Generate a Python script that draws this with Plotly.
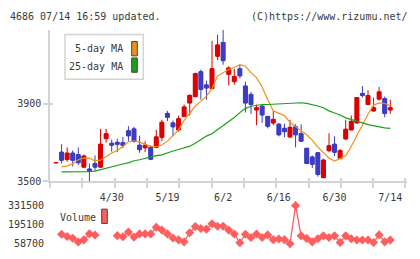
import plotly.graph_objects as go

W, H = 420, 259

# ---------------- data ----------------
opens = [3596, 3651, 3613, 3646, 3638, 3574, 3564, 3593, 3574, 3721,
         3697, 3702, 3700, 3761, 3771, 3687, 3674, 3676, 3676, 3728,
         3851, 3802, 3766, 3836, 3905, 3938, 4066, 3998, 3979, 4146,
         4217, 4053, 4015, 4081, 3992, 3949, 3869, 3889, 3835, 3802,
         3795, 3774, 3730, 3782, 3746, 3671, 3626, 3648, 3520, 3659,
         3692, 3618, 3720, 3766, 3802, 3954, 3897, 3864, 3925, 3927, 3869]
highs = [3598, 3692, 3676, 3660, 3676, 3639, 3593, 3634, 3771, 3771,
         3716, 3721, 3730, 3785, 3782, 3736, 3708, 3687, 3766, 3818,
         3864, 3815, 3840, 3897, 3949, 4061, 4077, 4020, 4225, 4258,
         4282, 4094, 4081, 4102, 4015, 3962, 3897, 3889, 3840, 3864,
         3802, 3799, 3818, 3795, 3795, 3671, 3634, 3648, 3618, 3749,
         3733, 3667, 3818, 3840, 3933, 3992, 3971, 3933, 3987, 3938, 3922]
lows = [3596, 3593, 3602, 3577, 3585, 3569, 3500, 3556, 3569, 3700,
        3654, 3651, 3672, 3708, 3700, 3648, 3651, 3610, 3671, 3708,
        3811, 3733, 3757, 3831, 3840, 3933, 3922, 3922, 3979, 4126,
        4102, 3995, 3999, 4031, 3856, 3848, 3790, 3802, 3774, 3790,
        3733, 3728, 3725, 3676, 3708, 3589, 3569, 3525, 3517, 3651,
        3631, 3615, 3713, 3766, 3802, 3933, 3897, 3861, 3917, 3831, 3848]
closes = [3598, 3610, 3646, 3610, 3597, 3631, 3553, 3574, 3692, 3746,
          3687, 3692, 3687, 3736, 3708, 3664, 3687, 3615, 3730, 3805,
          3831, 3782, 3823, 3884, 3944, 4056, 3974, 3982, 4081, 4204,
          4123, 4085, 4041, 4045, 3905, 3897, 3880, 3843, 3785, 3820,
          3741, 3757, 3779, 3741, 3708, 3593, 3589, 3536, 3610, 3684,
          3651, 3659, 3769, 3810, 3933, 3943, 3943, 3880, 3962, 3851, 3880]

ma5 = [None, 3577, 3579, 3592, 3612, 3621, 3620, 3606, 3610, 3628,
       3647, 3660, 3680, 3705, 3710, 3703, 3690, 3681, 3679, 3688,
       3708, 3738, 3766, 3815, 3851, 3889, 3913, 3940, 3979, 4045,
       4061, 4077, 4088, 4102, 4094, 4061, 4034, 3987, 3922, 3864,
       3851, 3840, 3805, 3782, 3761, 3741, 3713, 3677, 3651, 3621,
       3605, 3618, 3632, 3682, 3736, 3795, 3847, 3894, 3905, 3902, 3890]
ma25 = [None, 3549, 3549, 3549, 3549, 3549, 3551, 3553, 3561, 3570,
        3577, 3583, 3590, 3596, 3607, 3612, 3620, 3627, 3633, 3637,
        3648, 3657, 3665, 3673, 3682, 3697, 3714, 3734, 3746, 3766,
        3790, 3810, 3830, 3855, 3877, 3888, 3894, 3897, 3897, 3898,
        3899, 3900, 3902, 3905, 3906, 3903, 3897, 3889, 3880, 3864,
        3853, 3843, 3828, 3818, 3810, 3802, 3793, 3787, 3782, 3776, 3774]
volume = [None, 126900, 110500, 98300, 71000, 86700, 129600, 121400, None, None,
          None, 116700, 108500, 142600, 106400, 129000, 129000, 129000, 176700, 156200,
          129000, 99600, 86700, 72300, 137800, 181500, 167800, 163000, 202000, 183500,
          183500, 156200, 128900, 65500, 126900, 103700, 128900, 103700, 122100, 88000,
          92800, 88000, 58700, 331500, 115300, 96900, 72300, 94800, 115300, 103700,
          115300, 67600, 115300, 94800, 86000, 86000, 86000, 67600, 122100, 72300, 86000]

idx = list(range(len(closes)))
date_idx = [10, 20, 30, 40, 50, 60]
date_labels = ["4/30", "5/19", "6/2", "6/16", "6/30", "7/14"]
price_ticks = [3500, 3900]
vol_ticks = [58700, 195100, 331500]

# ---------------- style ----------------
FONT = "DejaVu Sans Mono"
TXT = "#3a3a3a"
AX = "#d4d4d4"
UP = "#dd0000"
DOWN = "#3c3cc4"
ORANGE = "#f0901a"
GREEN = "#1aa01a"
VOLC = "#ff5e5e"


def px(xp):
    return xp / W


def py(yp):
    return 1 - yp / H


x_dom = [px(50), px(407)]
x_rng = [-1.077, 63.0]

body_base = [min(o, c) for o, c in zip(opens, closes)]
body_len = [abs(c - o) for o, c in zip(opens, closes)]
body_col = [UP if c >= o else DOWN for o, c in zip(opens, closes)]

fig = go.Figure()
fig.add_trace(go.Candlestick(
    x=idx, open=opens, high=highs, low=lows, close=closes,
    increasing=dict(line=dict(color=UP, width=1), fillcolor=UP),
    decreasing=dict(line=dict(color=DOWN, width=1), fillcolor=DOWN),
    whiskerwidth=0, showlegend=False, xaxis="x", yaxis="y"))
fig.add_trace(go.Bar(x=idx, y=body_len, base=body_base, width=0.72,
                     marker=dict(color=body_col, line=dict(color=body_col, width=1)),
                     showlegend=False, hoverinfo="skip", xaxis="x", yaxis="y"))
fig.add_trace(go.Scatter(x=idx, y=ma5, mode="lines", line=dict(color=ORANGE, width=1.2),
                         showlegend=False, xaxis="x", yaxis="y"))
fig.add_trace(go.Scatter(x=idx, y=ma25, mode="lines", line=dict(color=GREEN, width=1.2),
                         showlegend=False, xaxis="x", yaxis="y"))
fig.add_trace(go.Scatter(x=idx, y=volume, mode="lines+markers",
                         line=dict(color=VOLC, width=1.3),
                         marker=dict(symbol="diamond", size=7, color=VOLC),
                         cliponaxis=False, connectgaps=False,
                         showlegend=False, xaxis="x4", yaxis="y4"))

fig.update_layout(
    width=W, height=H, margin=dict(l=0, r=0, t=0, b=0),
    paper_bgcolor="white", plot_bgcolor="white", barmode="overlay",
    font=dict(family=FONT, size=10, color=TXT),
    xaxis=dict(domain=x_dom, range=x_rng, anchor="y",
               rangeslider=dict(visible=False),
               showline=True, linecolor=AX, linewidth=1.5,
               showgrid=False, zeroline=False,
               tickmode="array", tickvals=date_idx, ticktext=date_labels,
               ticks="outside", ticklen=6, tickcolor="rgba(0,0,0,0)",
               tickfont=dict(family=FONT, size=10, color=TXT),
               minor=dict(tickmode="linear", tick0=-1.077, dtick=5.8,
                          ticks="outside", ticklen=5, tickcolor=AX, tickwidth=1.5,
                          showgrid=False)),
    xaxis2=dict(overlaying="x", matches="x", anchor="y", showline=False,
                showgrid=False, zeroline=False, showticklabels=False,
                tickmode="linear", tick0=-1.077, dtick=5.8,
                ticks="inside", ticklen=3, tickcolor=AX, tickwidth=1.5),
    yaxis=dict(domain=[py(184), py(25)], range=[3500, 4282], anchor="x",
               showline=True, linecolor=AX, linewidth=1.5,
               showgrid=False, zeroline=False,
               tickmode="array", tickvals=price_ticks,
               ticktext=[str(v) for v in price_ticks],
               ticks="outside", ticklen=5, tickcolor=AX, tickwidth=1.5,
               tickfont=dict(family=FONT, size=10, color=TXT)),
    yaxis2=dict(overlaying="y", matches="y", anchor="x", showline=False,
                showgrid=False, zeroline=False, showticklabels=False,
                tickmode="array", tickvals=price_ticks,
                ticks="inside", ticklen=3, tickcolor=AX, tickwidth=1.5),
    xaxis4=dict(domain=x_dom, range=x_rng, anchor="y4", matches="x",
                showline=False, showgrid=False, zeroline=False,
                showticklabels=False, ticks=""),
    yaxis4=dict(domain=[py(249.3), py(209.3)], range=[58700, 331500], anchor="x4",
                showline=False, showgrid=False, zeroline=False,
                tickmode="array", tickvals=vol_ticks,
                ticktext=[str(v) for v in vol_ticks],
                ticks="outside", ticklen=3, tickcolor="rgba(0,0,0,0)",
                tickfont=dict(family=FONT, size=10, color=TXT)),
)

# invisible traces so the overlay tick axes are drawn
fig.add_trace(go.Scatter(x=[idx[0]], y=[closes[0]], mode="markers",
                         marker=dict(opacity=0), hoverinfo="skip",
                         showlegend=False, xaxis="x2", yaxis="y"))
fig.add_trace(go.Scatter(x=[idx[0]], y=[closes[0]], mode="markers",
                         marker=dict(opacity=0), hoverinfo="skip",
                         showlegend=False, xaxis="x", yaxis="y2"))

# header texts
fig.add_annotation(x=px(8), y=py(11), xref="paper", yref="paper", xanchor="left",
                   yanchor="middle", showarrow=False, text="4686 07/14 16:59 updated.",
                   font=dict(family=FONT, size=10, color=TXT))
fig.add_annotation(x=px(410), y=py(11), xref="paper", yref="paper", xanchor="right",
                   yanchor="middle", showarrow=False, text="(C)https://www.rizumu.net/",
                   font=dict(family=FONT, size=10, color=TXT))

# legend box
fig.add_shape(type="rect", xref="paper", yref="paper", x0=px(65), x1=px(143.3),
              y0=py(76.7), y1=py(30), line=dict(color=AX, width=1.5), fillcolor="white",
              layer="above")
fig.add_annotation(x=px(125), y=py(45), xref="paper", yref="paper", xanchor="right",
                   yanchor="middle", showarrow=False, text="5-day MA",
                   font=dict(family=FONT, size=10, color=TXT))
fig.add_annotation(x=px(125), y=py(63), xref="paper", yref="paper", xanchor="right",
                   yanchor="middle", showarrow=False, text="25-day MA",
                   font=dict(family=FONT, size=10, color=TXT))
fig.add_shape(type="rect", xref="paper", yref="paper", x0=px(131.7), x1=px(137.3),
              y0=py(52.3), y1=py(37.3), line=dict(color="#444", width=1), fillcolor=ORANGE,
              layer="above")
fig.add_shape(type="rect", xref="paper", yref="paper", x0=px(131.7), x1=px(137.3),
              y0=py(69.5), y1=py(54.5), line=dict(color="#444", width=1), fillcolor=GREEN,
              layer="above")

# volume legend
fig.add_annotation(x=px(58), y=py(221.5), xref="paper", yref="paper", xanchor="left",
                   yanchor="middle", showarrow=False, text="Volume",
                   font=dict(family=FONT, size=10, color=TXT))
fig.add_shape(type="rect", xref="paper", yref="paper", x0=px(101.7), x1=px(107.3),
              y0=py(228), y1=py(213), line=dict(color="#444", width=1), fillcolor=VOLC,
              layer="above")

fig.write_html("out.html")
